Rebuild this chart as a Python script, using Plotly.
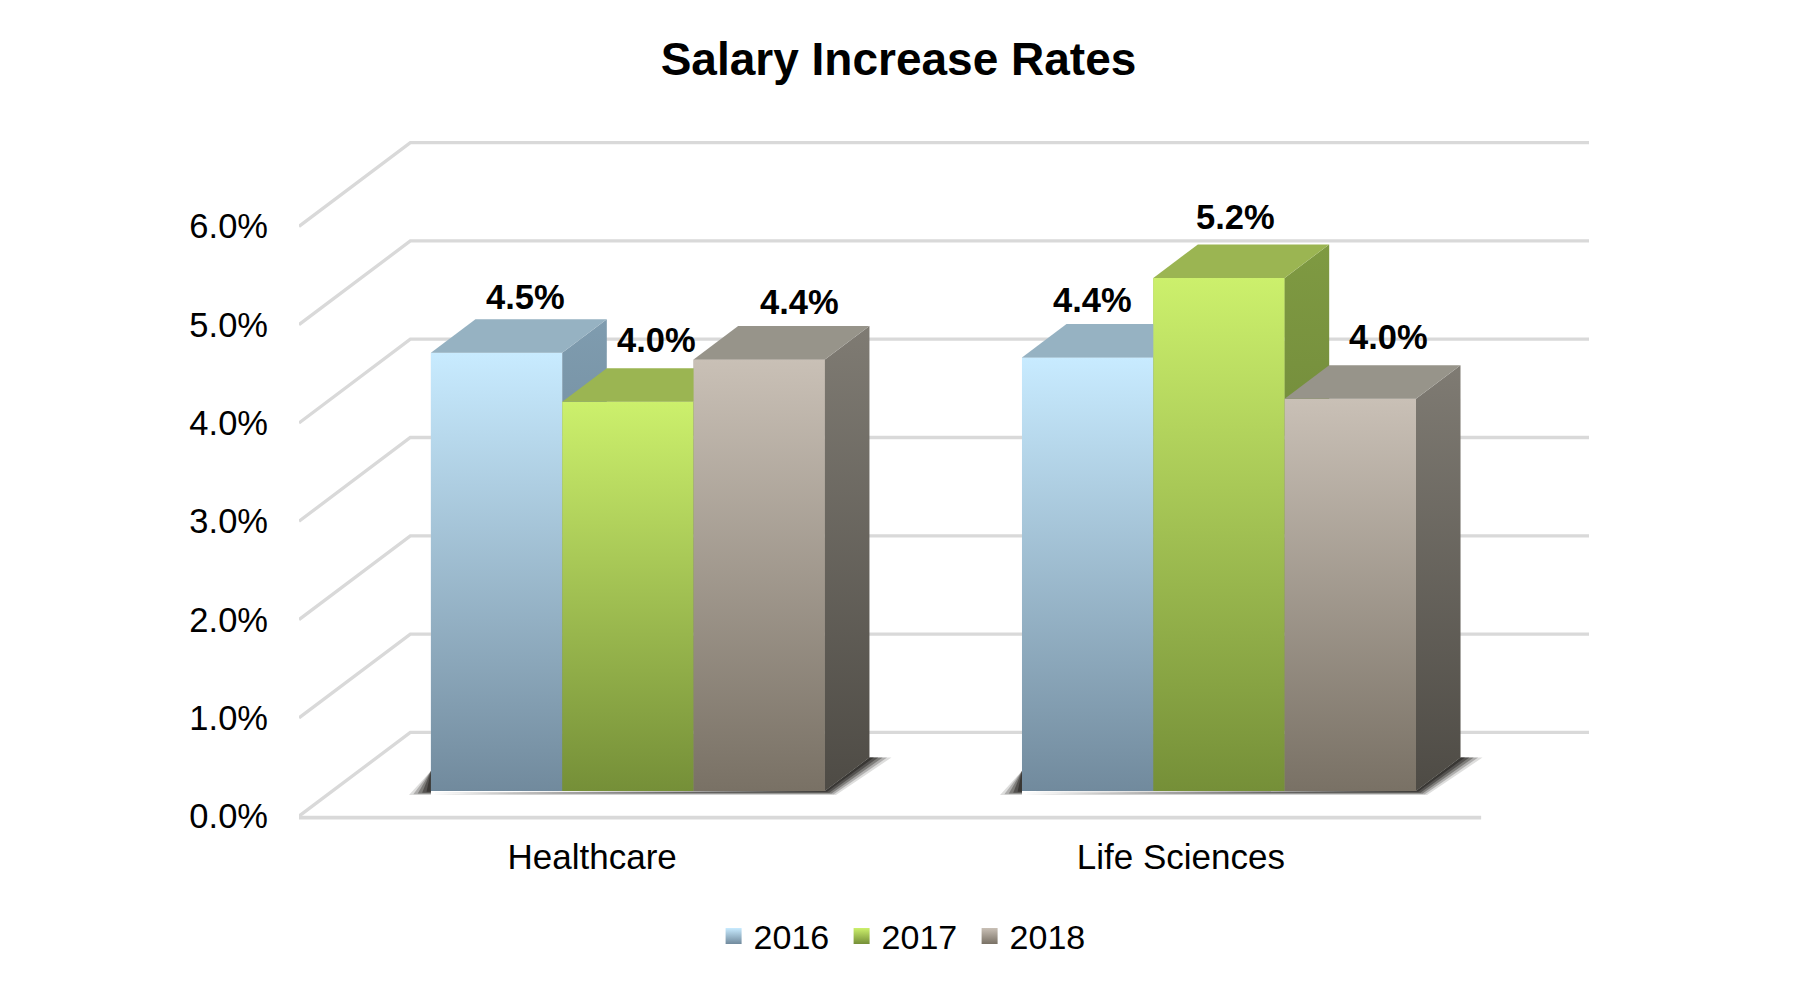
import plotly.graph_objects as go

CATEGORIES = ["Healthcare", "Life Sciences"]
YEARS = ["2016", "2017", "2018"]
V2016 = [4.46, 4.41]
V2017 = [3.96, 5.22]
V2018 = [4.39, 3.99]
TICKS = [0, 1, 2, 3, 4, 5, 6]
TICK_TEXT = ["0.0%", "1.0%", "2.0%", "3.0%", "4.0%", "5.0%", "6.0%"]
SERIES = [V2016, V2017, V2018]

# style
FRONT = [("#C8EBFF", "#718A9D"), ("#CCF06C", "#758F38"), ("#C9C0B6", "#797165")]
SIDE = [("#7F9CAF", "#5F7687"), ("#7F9A42", "#5F7530"), ("#7F7B73", "#4E4B45")]
TOP = ["#96B2C2", "#9BB552", "#97948A"]
MID = ["#9DBBCE", "#A1BE52", "#A1988D"]
GRID = "#D9D9D9"
FONT = "Liberation Sans"

# geometry in axis units
DX, DY = 0.18835, 0.8521
XMIN, XMAX = -0.5, 1.6825
YMIN, YMAX = -0.1, 6.95
BARW = 0.2222
D0, D1 = 0.3, 0.7
PXX, PXY = 591.2, 98.35  # pixels per axis unit
# label nudges in pixels relative to the bar's front-top centre
LABEL_SHIFT = [[(29, 56), (5, 58)], [(29, 62), (16, 61)], [(40, 58), (38, 62)]]
TICK_POS = [-0.004, 0.992]

fig = go.Figure()

# real bars: data carriers for the front faces
pos = []
for s, vals in enumerate(SERIES):
    xs = [c + (s - 1) * BARW + D0 * DX for c in range(len(CATEGORIES))]
    pos.append(xs)
    fig.add_trace(go.Bar(x=xs, y=vals, base=[D0 * DY] * len(vals), width=BARW,
                         marker=dict(color=MID[s], line=dict(width=0)),
                         name=YEARS[s], showlegend=False, hoverinfo="skip"))

def poly(xs, ys, **kw):
    fig.add_trace(go.Scatter(x=xs + xs[:1], y=ys + ys[:1], mode="lines", fill="toself",
                             line=dict(width=0), showlegend=False, hoverinfo="skip", **kw))

# walls / gridlines
for t in TICKS:
    fig.add_trace(go.Scatter(x=[XMIN, XMIN + DX, XMAX], y=[t, t + DY, t + DY], mode="lines",
                             line=dict(color=GRID, width=3.3), showlegend=False,
                             hoverinfo="skip", cliponaxis=False))
fig.add_trace(go.Scatter(x=[XMIN, XMIN + 2.0], y=[-0.015, -0.015], mode="lines",
                         line=dict(color=GRID, width=3.8), showlegend=False,
                         hoverinfo="skip", cliponaxis=False))

# floor shadows
for c in range(len(CATEGORIES)):
    left = pos[0][c] - BARW / 2
    right = pos[2][c] + BARW / 2
    by = D0 * DY
    ddx, ddy = (D1 - D0) * DX, (D1 - D0) * DY
    for grow, alpha in [(1.0, 0.15), (0.8, 0.25), (0.6, 0.35), (0.4, 0.45), (0.2, 0.55)]:
        gx = 22 / PXX * grow
        gy = 4 / PXY * grow
        col = f"rgba(35,33,30,{alpha})"
        poly([left, right + gx * 0.5, right + ddx + gx, right + ddx, right],
             [by - gy, by - gy, by + ddy, by + ddy, by], fillcolor=col)
        poly([left - gx, left, left], [by - gy, by - gy, by + ddy * 0.6], fillcolor=col)

# 3D faces, painted left to right
for c in range(len(CATEGORIES)):
    for s, vals in enumerate(SERIES):
        x0 = pos[s][c] - BARW / 2
        x1 = pos[s][c] + BARW / 2
        y0 = D0 * DY
        y1 = y0 + vals[c]
        ddx, ddy = (D1 - D0) * DX, (D1 - D0) * DY
        poly([x0, x1, x1, x0], [y0, y0, y1, y1],
             fillgradient=dict(type="vertical",
                               colorscale=[[0, FRONT[s][1]], [1, FRONT[s][0]]]))
        poly([x1, x1 + ddx, x1 + ddx, x1], [y0, y0 + ddy, y1 + ddy, y1],
             fillgradient=dict(type="vertical",
                               colorscale=[[0, SIDE[s][1]], [1, SIDE[s][0]]]))
        poly([x0, x1, x1 + ddx, x0 + ddx], [y1, y1, y1 + ddy, y1 + ddy], fillcolor=TOP[s])

# legend entries
for s, y in enumerate(YEARS):
    fig.add_trace(go.Scatter(x=[None], y=[None], mode="markers", name=y,
                             marker=dict(symbol="square", size=17, color=FRONT[s][0],
                                         gradient=dict(type="vertical", color=FRONT[s][1]),
                                         line=dict(width=0))))

# value labels
for s, vals in enumerate(SERIES):
    for c, v in enumerate(vals):
        sx, sy = LABEL_SHIFT[s][c]
        fig.add_annotation(x=pos[s][c], y=D0 * DY + v, text=f"<b>{v:.1f}%</b>", showarrow=False,
                           xshift=sx, yshift=sy, font=dict(family=FONT, size=34.5, color="#000000"))

fig.update_layout(
    width=1800, height=992, autosize=False, paper_bgcolor="#FFFFFF", plot_bgcolor="rgba(0,0,0,0)",
    margin=dict(l=298.5, r=211, t=132.8, b=166), barmode="overlay",
    title=dict(text="<b>Salary Increase Rates</b>", x=898.5 / 1800, xref="container", xanchor="center",
               y=1 - 58.5 / 992, yref="container", yanchor="middle",
               font=dict(family=FONT, size=46, color="#000000")),
    xaxis=dict(range=[XMIN, XMAX], tickvals=TICK_POS, ticktext=CATEGORIES,
               showgrid=False, zeroline=False, showline=False, ticks="",
               ticklabelstandoff=7, tickfont=dict(family=FONT, size=35, color="#000000")),
    yaxis=dict(range=[YMIN, YMAX], tickvals=TICKS, ticktext=TICK_TEXT, showgrid=False,
               zeroline=False, showline=False, ticks="", ticklabelstandoff=30,
               tickfont=dict(family=FONT, size=34.5, color="#000000")),
    legend=dict(orientation="h", xref="container", yref="container", x=713.6 / 1800, xanchor="left",
                y=1 - 936.4 / 992, yanchor="middle", entrywidth=83, entrywidthmode="pixels",
                font=dict(family=FONT, size=34, color="#000000"), bgcolor="rgba(0,0,0,0)"),
)

fig.write_html("out.html", config={"displayModeBar": False},
               post_script="document.body.style.margin='0';document.documentElement.style.overflow='hidden';")
